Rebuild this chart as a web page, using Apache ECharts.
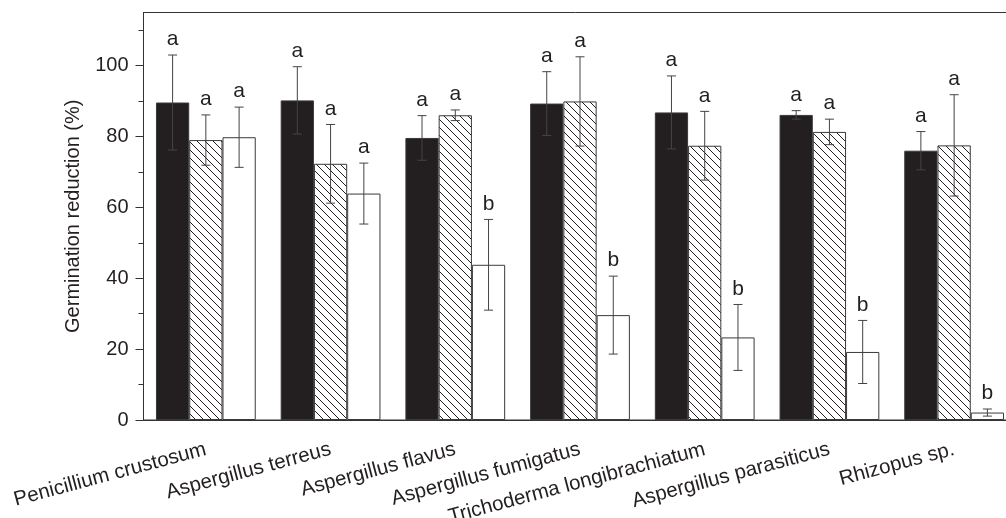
<!DOCTYPE html>
<html>
<head>
<meta charset="utf-8">
<script src="https://cdn.jsdelivr.net/npm/echarts@6/dist/echarts.min.js"></script>
<style>
  html, body { margin: 0; padding: 0; background: #fff; }
  #chart { width: 1006px; height: 518px; }
</style>
</head>
<body>
<div id="chart"></div>
<script>
var categories = ['Penicillium crustosum', 'Aspergillus terreus', 'Aspergillus flavus',
  'Aspergillus fumigatus', 'Trichoderma longibrachiatum', 'Aspergillus parasiticus', 'Rhizopus sp.'];

var blackValues = [89.6, 90.2, 79.6, 89.3, 86.8, 86.1, 76.0];
var blackErrors = [13.4, 9.5, 6.3, 9.0, 10.3, 1.2, 5.4];
var blackLetters = ['a', 'a', 'a', 'a', 'a', 'a', 'a'];

var hatchValues = [79.0, 72.3, 86.0, 89.9, 77.4, 81.3, 77.5];
var hatchErrors = [7.1, 11.1, 1.5, 12.6, 9.7, 3.6, 14.3];
var hatchLetters = ['a', 'a', 'a', 'a', 'a', 'a', 'a'];

var whiteValues = [79.8, 63.9, 43.8, 29.6, 23.3, 19.2, 2.1];
var whiteErrors = [8.5, 8.6, 12.8, 11.0, 9.3, 8.9, 1.0];
var whiteLetters = ['a', 'a', 'b', 'b', 'b', 'b', 'b'];

var yMajorTicks = [0, 20, 40, 60, 80, 100];
var yMinorTicks = [10, 30, 50, 70, 90, 110];

var ink = '#231f20';
var font = '"Liberation Sans", Arial, Helvetica, sans-serif';

// hatch fill for the middle bars
var hatch = document.createElement('canvas');
hatch.width = 8; hatch.height = 8;
var ctx = hatch.getContext('2d');
ctx.fillStyle = '#fff';
ctx.fillRect(0, 0, 8, 8);
ctx.strokeStyle = ink;
ctx.lineWidth = 1;
ctx.beginPath();
ctx.moveTo(-1, -1); ctx.lineTo(9, 9);
ctx.moveTo(-1, 7); ctx.lineTo(1, 9);
ctx.moveTo(7, -1); ctx.lineTo(9, 1);
ctx.stroke();

function barSeries(name, values, fill) {
  return {
    name: name,
    type: 'bar',
    data: values,
    barGap: '0%',
    barCategoryGap: '20%',
    itemStyle: { color: fill, borderColor: '#3a3a3a', borderWidth: 1 },
    silent: true
  };
}

// error bars plus the letters above them; k = position of the bar in its group
function errorSeries(values, errors, letters, k) {
  return {
    type: 'custom',
    z: 10,
    silent: true,
    data: values.map(function (v, i) { return [i, v, errors[i]]; }),
    encode: { x: 0, y: 1 },
    renderItem: function (params, api) {
      var band = api.size([1, 0])[0];
      var bw = band * 0.8 / 3;
      var cat = api.value(0), v = api.value(1), e = api.value(2);
      var x = api.coord([cat, v])[0] + (k - 1) * bw;
      var hi = api.coord([cat, v + e])[1];
      var lo = api.coord([cat, v - e])[1];
      var cap = 4.5;
      var st = { stroke: '#444', lineWidth: 1 };
      return {
        type: 'group',
        children: [
          { type: 'line', shape: { x1: x, y1: hi, x2: x, y2: lo }, style: st },
          { type: 'line', shape: { x1: x - cap, y1: hi, x2: x + cap, y2: hi }, style: st },
          { type: 'line', shape: { x1: x - cap, y1: lo, x2: x + cap, y2: lo }, style: st },
          { type: 'text', x: x, y: hi - 5, style: {
              text: letters[params.dataIndex], fill: ink, font: '21px ' + font,
              align: 'center', verticalAlign: 'bottom' } }
        ]
      };
    }
  };
}

var chart = echarts.init(document.getElementById('chart'));
chart.setOption({
  animation: false,
  backgroundColor: '#fff',
  grid: { left: 143.5, top: 12.5, width: 873, height: 407.5, show: true,
    borderColor: '#333', borderWidth: 1, containLabel: false, outerBoundsMode: 'none' },
  xAxis: {
    type: 'category',
    data: categories,
    axisLine: { lineStyle: { color: '#333', width: 1 } },
    axisTick: { alignWithLabel: true, length: 7, lineStyle: { color: '#333' } },
    axisLabel: { interval: 0, rotate: 15, margin: 29, color: ink, fontSize: 20.5, fontFamily: font }
  },
  yAxis: [{
    type: 'value',
    position: 'left',
    min: 0,
    max: 115,
    name: 'Germination reduction (%)',
    nameLocation: 'middle',
    nameGap: 60,
    nameTextStyle: { color: ink, fontSize: 20, fontFamily: font },
    axisLine: { show: true, lineStyle: { color: '#333', width: 1 } },
    axisTick: { show: true, length: 8, customValues: yMajorTicks, lineStyle: { color: '#333' } },
    axisLabel: { customValues: yMajorTicks, margin: 15, color: ink, fontSize: 20, fontFamily: font },
    splitLine: { show: false }
  }, {
    type: 'value',
    position: 'left',
    min: 0,
    max: 115,
    axisLine: { show: false },
    axisTick: { show: true, length: 5, customValues: yMinorTicks, lineStyle: { color: '#333' } },
    axisLabel: { show: false },
    splitLine: { show: false }
  }],
  series: [
    barSeries('black', blackValues, ink),
    barSeries('hatched', hatchValues, { image: hatch, repeat: 'repeat' }),
    barSeries('white', whiteValues, '#fff'),
    errorSeries(blackValues, blackErrors, blackLetters, 0),
    errorSeries(hatchValues, hatchErrors, hatchLetters, 1),
    errorSeries(whiteValues, whiteErrors, whiteLetters, 2)
  ]
});
</script>
</body>
</html>
